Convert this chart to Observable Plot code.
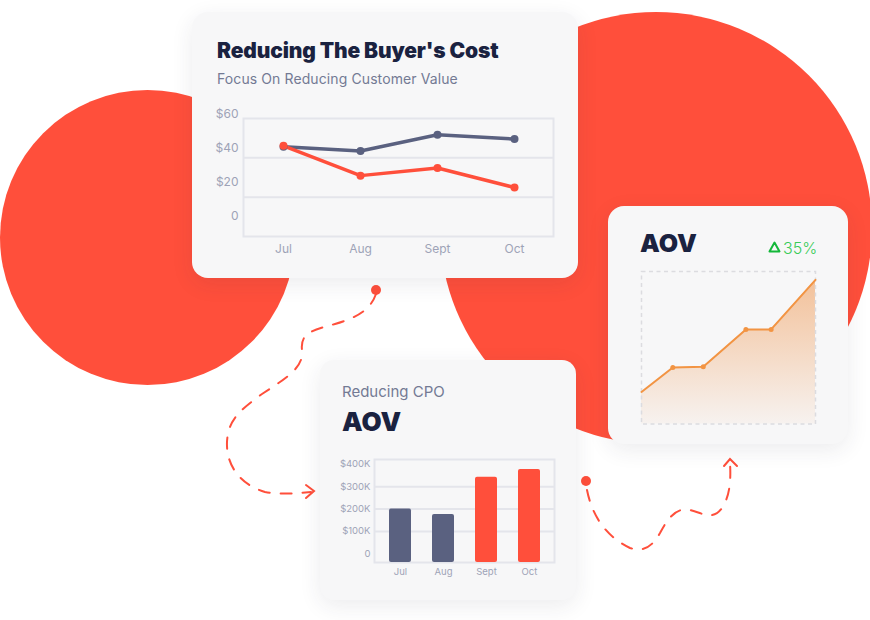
<!DOCTYPE html>
<html><head><meta charset="utf-8">
<script src="https://cdn.jsdelivr.net/npm/d3@7"></script>
<script src="https://cdn.jsdelivr.net/npm/@observablehq/plot@0.6"></script>
<style>
body{margin:0;background:#fff;}
#page{position:relative;width:870px;height:620px;overflow:hidden;font-family:Inter,"Noto Sans",sans-serif;}
.circle{position:absolute;border-radius:50%;background:#ff4f3b;}
.card{position:absolute;background:#f7f7f8;border-radius:16px;box-shadow:0 6px 22px rgba(40,40,70,0.09);}
.heavy{position:absolute;font-weight:900;color:#1a2240;white-space:nowrap;line-height:1;}
.light{position:absolute;color:#737a94;white-space:nowrap;line-height:1;}
.chart{position:absolute;}
#deco{position:absolute;left:0;top:0;}
</style></head>
<body><div id="page">
<div class="circle" style="left:0;top:90px;width:295px;height:295px;"></div>
<div class="circle" style="left:440px;top:12px;width:432px;height:432px;"></div>
<svg id="deco" width="870" height="620" fill="none" stroke="#ff4f3b" stroke-width="2" stroke-linecap="round">
  <path d="M376,294 C370,311 355,318 335,324 C314,330 300,332 302,350 C304,368 286,378 262,394 C240,410 228,420 227,442 C226,466 241,485 265,492 C282,495 296,493 311,492" stroke-dasharray="11 11"/>
  <path d="M306,485 L314,491 L306,498"/>
  <path d="M587,490 C592,515 605,536 630,548 C645,553 653,545 660,533 C668,518 676,507 690,510 C702,513 713,521 722,508 C730,496 731,480 730,463" stroke-dasharray="11 11"/>
  <path d="M724,466 L730,459 L737,466"/>
  <circle cx="376" cy="290" r="5" fill="#ff4f3b" stroke="none"/>
  <circle cx="586" cy="481" r="5" fill="#ff4f3b" stroke="none"/>
</svg>
<div class="card" style="left:192px;top:12px;width:386px;height:266px;"></div>
<div class="card" style="left:320px;top:360px;width:256px;height:240px;border-radius:14px;"></div>
<div class="card" style="left:608px;top:206px;width:240px;height:238px;"></div>
<div class="heavy" style="left:217px;top:40px;font-size:21px;letter-spacing:-0.15px;">Reducing The Buyer's Cost</div>
<div class="light" style="left:217px;top:72px;font-size:14px;letter-spacing:0.1px;">Focus On Reducing Customer Value</div>
<div class="light" style="left:342px;top:384px;font-size:15px;">Reducing CPO</div>
<div class="heavy" style="left:342px;top:409px;font-size:26px;">AOV</div>
<div class="heavy" style="left:640px;top:231px;font-size:25px;">AOV</div>
<svg style="position:absolute;left:768px;top:241px;" width="13" height="12"><polygon points="6.5,1.5 11.5,10.5 1.5,10.5" fill="none" stroke="#14b83a" stroke-width="2" stroke-linejoin="round"/></svg>
<div class="light" style="left:783px;top:240px;font-size:16px;font-weight:300;color:#3acb58;">35%</div>
<div id="c1" class="chart" style="left:200px;top:100px;"></div>
<div id="c2" class="chart" style="left:330px;top:450px;"></div>
<div id="c3" class="chart" style="left:630px;top:262px;"></div>
</div>
<script>
// Chart 1: Reducing The Buyer's Cost
const months = ["Jul", "Aug", "Sept", "Oct"];
const costSeriesA = [41, 38.5, 48, 45.5];
const costSeriesB = [41.5, 24, 28.5, 17];
const costTicks = [0, 20, 40, 60];

// Chart 2: Reducing CPO (thousands of $)
const cpoValues = [200, 176, 342, 377];
const cpoGroup = ["prior", "prior", "current", "current"];
const cpoTicks = [0, 100, 200, 300, 400];

// Chart 3: AOV trend
const aovX = [0, 18, 35.5, 60, 74.5, 100];
const aovY = [21, 37, 37.5, 62, 62, 94.5];

const slate = "#5a6180", red = "#ff4f3b", tickColor = "#9ea3b7", gridColor = "#e4e5eb";

const costTable = [
  ...months.map((m, i) => ({month: m, value: costSeriesA[i], series: "A"})),
  ...months.map((m, i) => ({month: m, value: costSeriesB[i], series: "B"}))
];
const y1Lo = -11.8, y1Hi = 57.6;
document.getElementById("c1").append(Plot.plot({
  width: 370, height: 165, marginLeft: 43, marginRight: 17, marginTop: 18, marginBottom: 29,
  style: {background: "transparent", fontFamily: "Inter, sans-serif", fontSize: "12px", color: tickColor, overflow: "visible"},
  x: {type: "point", domain: months, padding: 0.5, label: null, tickSize: 0, tickPadding: 8},
  y: {domain: [y1Lo, y1Hi], axis: null},
  color: {domain: ["A", "B"], range: [slate, red]},
  marks: [
    Plot.ruleY([y1Lo + (y1Hi - y1Lo) / 3, y1Lo + 2 * (y1Hi - y1Lo) / 3], {stroke: gridColor, strokeWidth: 2}),
    Plot.frame({stroke: gridColor, strokeWidth: 2}),
    Plot.text(costTicks, {y: d => d, text: d => d ? `$${d}` : "0", frameAnchor: "left", textAnchor: "end", dx: -5, fill: tickColor, fontSize: 12}),
    Plot.line(costTable, {x: "month", y: "value", z: "series", stroke: "series", strokeWidth: 3.5, strokeLinejoin: "round"}),
    Plot.dot(costTable, {x: "month", y: "value", fill: "series", r: 4})
  ]
}));

const cpoTable = months.map((m, i) => ({month: m, value: cpoValues[i], group: cpoGroup[i]}));
const y2Lo = -39, y2Hi = 422;
document.getElementById("c2").append(Plot.plot({
  width: 240, height: 135, marginLeft: 44, marginRight: 16, marginTop: 9, marginBottom: 23,
  style: {background: "transparent", fontFamily: "Inter, sans-serif", fontSize: "9.5px", color: tickColor, overflow: "visible"},
  x: {domain: months, paddingInner: 0.49, paddingOuter: 0.32, label: null, tickSize: 0, tickPadding: 6},
  y: {domain: [y2Lo, y2Hi], axis: null},
  color: {domain: ["prior", "current"], range: [slate, red]},
  marks: [
    Plot.ruleY([100, 200, 300], {stroke: gridColor, strokeWidth: 2}),
    Plot.frame({stroke: gridColor, strokeWidth: 2}),
    Plot.text(cpoTicks, {y: d => d, text: d => d ? `$${d}K` : "0", frameAnchor: "left", textAnchor: "end", dx: -4, fill: tickColor, fontSize: 9.5}),
    Plot.barY(cpoTable, {x: "month", y1: y2Lo, y2: "value", fill: "group", rx: 2})
  ]
}));

const aovTable = aovX.map((x, i) => ({x, y: aovY[i]}));
function gradDefs() {
  const defs = d3.create("svg:defs");
  const g = defs.append("linearGradient").attr("id", "aovGrad").attr("x1", 0).attr("y1", 0).attr("x2", 0).attr("y2", 1);
  g.append("stop").attr("offset", "0%").attr("stop-color", "#f0a060").attr("stop-opacity", 0.62);
  g.append("stop").attr("offset", "100%").attr("stop-color", "#f0a060").attr("stop-opacity", 0.06);
  return defs.node();
}
document.getElementById("c3").append(Plot.plot({
  width: 195, height: 170, marginLeft: 11, marginRight: 10, marginTop: 9, marginBottom: 8.5,
  style: {background: "transparent", overflow: "visible"},
  x: {domain: [0, 100], axis: null},
  y: {domain: [0, 100], axis: null},
  marks: [
    gradDefs,
    Plot.areaY(aovTable, {x: "x", y: "y", fill: "url(#aovGrad)"}),
    Plot.frame({stroke: "#dcdce0", strokeWidth: 1.5, strokeDasharray: "4,3.5"}),
    Plot.lineY(aovTable, {x: "x", y: "y", stroke: "#f29443", strokeWidth: 2}),
    Plot.dot(aovTable.filter((d, i) => i > 0 && i < aovTable.length - 1), {x: "x", y: "y", fill: "#f29443", r: 2.5})
  ]
}));
</script>
</body></html>
